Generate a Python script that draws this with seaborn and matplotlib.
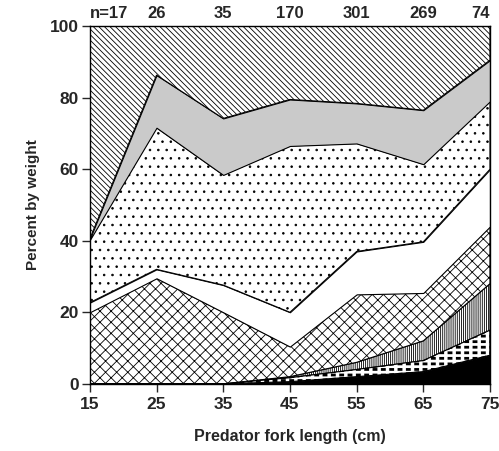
import numpy as np
import matplotlib
matplotlib.use("Agg")
import matplotlib.pyplot as plt
import seaborn as sns

# Predator fork length (cm)
lengths = [15, 25, 35, 45, 55, 65, 75]
sample_sizes = ["n=17", "26", "35", "170", "301", "269", "74"]

# Percent by weight of each prey category (bottom to top of the stack)
prey_black = [0, 0, 0, 0.6, 2.0, 3.4, 8.0]
prey_dashes = [0, 0, 0, 1.1, 2.0, 3.1, 7.0]
prey_vertical = [0, 0, 0, 0.3, 2.0, 5.5, 13.0]
prey_crosshatch = [20.0, 29.5, 20.0, 8.4, 19.0, 13.4, 16.0]
prey_white = [2.7, 2.5, 7.6, 9.6, 12.0, 14.3, 16.0]
prey_dots = [17.5, 39.6, 30.8, 46.5, 30.2, 21.7, 19.0]
prey_gray = [0.3, 14.7, 15.8, 13.0, 11.2, 15.1, 11.5]
prey_diagonal = [59.5, 13.7, 25.8, 20.5, 21.6, 23.5, 9.5]

series = [prey_black, prey_dashes, prey_vertical, prey_crosshatch,
          prey_white, prey_dots, prey_gray, prey_diagonal]
styles = [
    dict(facecolor="black", hatch=None, hlw=0.6),
    dict(facecolor="white", hatch="---", hlw=2.0),
    dict(facecolor="white", hatch="||||||||", hlw=0.6),
    dict(facecolor="white", hatch="xxx", hlw=0.6),
    dict(facecolor="white", hatch=None, hlw=0.6),
    dict(facecolor="white", hatch="..", hlw=0.6),
    dict(facecolor="#cacaca", hatch=None, hlw=0.6),
    dict(facecolor="white", hatch="\\" * 6, hlw=0.6),
]

sns.set_style("ticks")
plt.rcParams["font.family"] = ["Liberation Sans", "DejaVu Sans"]
plt.rcParams["hatch.color"] = "black"

fig = plt.figure(figsize=(4.99, 4.51), dpi=100)
ax = fig.add_axes([0.180, 0.149, 0.802, 0.793])

x = np.array(lengths, dtype=float)
base = np.zeros_like(x)
for i, (vals, st) in enumerate(zip(series, styles)):
    top = base + np.array(vals, dtype=float)
    with plt.rc_context({"hatch.linewidth": st["hlw"]}):
        ax.fill_between(x, base, top, facecolor=st["facecolor"], hatch=st["hatch"],
                        edgecolor="black", linewidth=0.8, zorder=2)
    if i == 1:
        # break the horizontal lines into short dashes
        with plt.rc_context({"hatch.linewidth": 2.5}):
            ax.fill_between(x, base, top, facecolor="none", hatch="||",
                            edgecolor="white", linewidth=0, zorder=2.1)
        ax.fill_between(x, base, top, facecolor="none", edgecolor="black",
                        linewidth=0.8, zorder=2.2)
    base = top

ax.set_xlim(15, 75)
ax.set_ylim(0, 100)
ax.set_xticks(lengths)
ax.set_xticklabels([str(v) for v in lengths])
ax.set_yticks([0, 20, 40, 60, 80, 100])
ax.tick_params(axis="both", labelsize=12.5, width=1, length=6, direction="out")
ax.tick_params(axis="y", pad=2)
for lbl in ax.get_xticklabels() + ax.get_yticklabels():
    lbl.set_fontweight("bold")
for sp in ax.spines.values():
    sp.set_visible(True)
    sp.set_linewidth(1.0)
    sp.set_color("black")
    sp.set_zorder(5)

ax.set_xlabel("Predator fork length (cm)", fontsize=11.5, fontweight="bold", labelpad=12)
ax.set_ylabel("Percent by weight", fontsize=11, fontweight="bold")
ax.yaxis.set_label_coords(-0.125, 0.5)

for i, (xv, txt) in enumerate(zip(lengths, sample_sizes)):
    ha = "center"
    if i == 0:
        ha = "left"
    elif i == len(lengths) - 1:
        ha = "right"
    ax.text(xv, 101.5, txt, ha=ha, va="bottom", fontsize=12, fontweight="bold")

fig.savefig("out.png", dpi=100)
